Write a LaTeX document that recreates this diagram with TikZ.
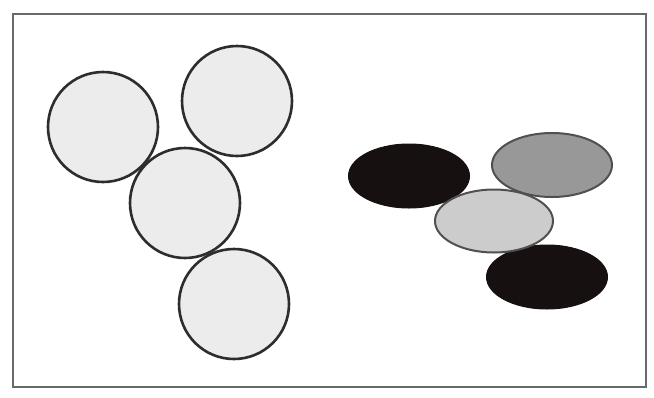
\documentclass[tikz,border=0pt]{standalone}
\usepackage{tikz}
\usetikzlibrary{shapes.geometric}
\definecolor{frameLine}{RGB}{105,105,105}
\definecolor{discFill}{RGB}{236,236,236}
\definecolor{discLine}{RGB}{45,45,45}
\definecolor{darkFill}{RGB}{22,16,16}
\definecolor{midFill}{RGB}{152,152,152}
\definecolor{paleFill}{RGB}{204,204,204}
\definecolor{ovLine}{RGB}{80,80,80}
\begin{document}
\begin{tikzpicture}[x=1pt,y=-1pt,
  disc/.style ={circle,draw=discLine,line width=2.6pt,fill=discFill,minimum size=110pt,inner sep=0pt},
  ovDark/.style={ellipse,draw=darkFill,line width=1pt,fill=darkFill,minimum width=121pt,minimum height=64pt,inner sep=0pt},
  ovMid/.style ={ellipse,draw=ovLine,line width=2pt,fill=midFill,minimum width=120pt,minimum height=64pt,inner sep=0pt},
  ovPale/.style={ellipse,draw=ovLine,line width=2pt,fill=paleFill,minimum width=118pt,minimum height=63pt,inner sep=0pt}]
\useasboundingbox (0,0) rectangle (654,397);
\fill[white] (0,0) rectangle (654,397);
\draw[frameLine,line width=2pt] (12.5,13.5) rectangle (646,387);
% left group
\node[disc] (dA) at (103,127) {};
\node[disc] (dB) at (237,101) {};
\node[disc] (dD) at (234,304) {};
\node[disc] (dC) at (185,203) {};
% right group
\node[ovDark] (oA) at (409,176) {};
\node[ovMid]  (oB) at (552,165) {};
\node[ovDark] (oD) at (547,277) {};
\node[ovPale] (oC) at (494,221) {};
\end{tikzpicture}
\end{document}
